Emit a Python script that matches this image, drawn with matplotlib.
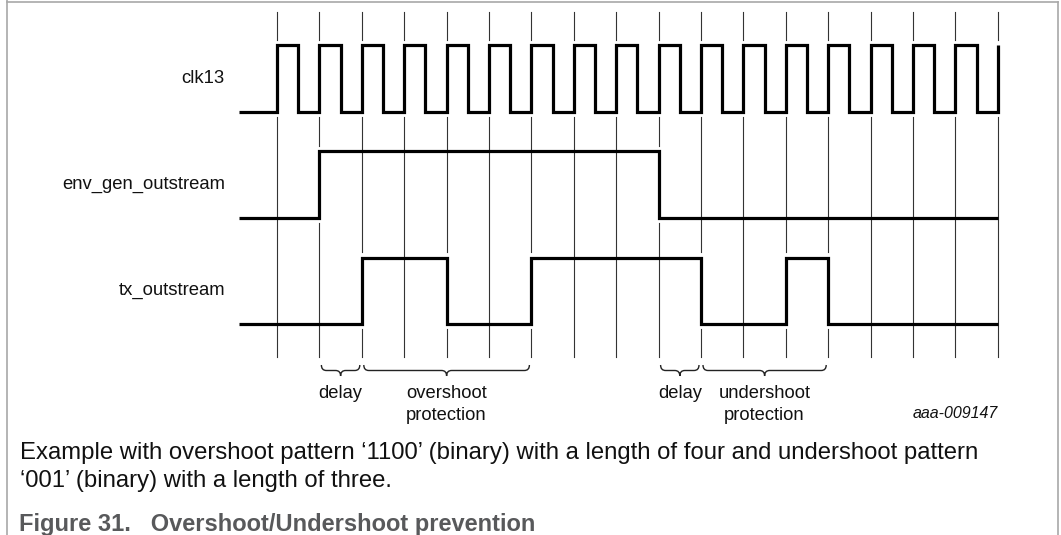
import matplotlib
matplotlib.use('Agg')
import matplotlib.pyplot as plt
from matplotlib.path import Path
from matplotlib.patches import PathPatch
from matplotlib.lines import Line2D

# ---------------- data ----------------
signal_names = ['clk13', 'env_gen_outstream', 'tx_outstream']
n_cycles = 17                      # clock periods drawn (edges 0..17)
# level before edge 0, then level in each clock period 0..16
env_levels = [0, 0, 1, 1, 1, 1, 1, 1, 1, 1, 0, 0, 0, 0, 0, 0, 0, 0]
tx_levels  = [0, 0, 0, 1, 1, 0, 0, 1, 1, 1, 1, 0, 0, 1, 0, 0, 0, 0]
brace_spans = [(1, 2), (2, 6), (9, 10), (10, 13)]
brace_labels = [['delay'], ['overshoot', 'protection'],
                ['delay'], ['undershoot', 'protection']]
figure_id = 'aaa-009147'
caption_lines = ['Example with overshoot pattern \u20181100\u2019 (binary) with a length of four and undershoot pattern',
                 '\u2018001\u2019 (binary) with a length of three.']
figure_title = 'Figure 31.   Overshoot/Undershoot prevention'

# ---------------- layout ----------------
W, H = 1061, 535
X0, PER = 277.0, 42.4              # pixel of edge 0, pixels per clock period
START = -0.9                       # waveform start (cycles)
rows = [(45.0, 111.5), (151.0, 217.5), (257.5, 323.5)]   # (high y, low y) px
GRID_TOP, GRID_BOT, GAP = 12.0, 357.0, 5.5
FONT = 'Liberation Sans'

fig = plt.figure(figsize=(W / 100, H / 100), dpi=100)
ax = fig.add_axes([0, 0, 1, 1])
ax.set_xlim(-X0 / PER, (W - X0) / PER)
ax.set_ylim(H, 0)
ax.axis('off')

def lvl(row, v):
    hi, lo = rows[row]
    return hi if v else lo

wave_kw = dict(color='black', lw=2.3, drawstyle='steps-post',
               solid_joinstyle='miter', solid_capstyle='butt', zorder=3)

# clock
clk_x = [START]
clk_v = [0]
for k in range(n_cycles):
    clk_x += [k, k + 0.5]
    clk_v += [1, 0]
clk_x.append(n_cycles)
clk_v.append(1)
ax.plot(clk_x, [lvl(0, v) for v in clk_v], **wave_kw)

# env / tx
def sig_xy(levels, row):
    xs = [START] + list(range(n_cycles)) + [n_cycles]
    vs = levels + [levels[-1]]
    return xs, [lvl(row, v) for v in vs]

for row, levels in ((1, env_levels), (2, tx_levels)):
    xs, ys = sig_xy(levels, row)
    ax.plot(xs, ys, **wave_kw)

# grid lines at clock edges, interrupted around transitions
for k in range(n_cycles + 1):
    gaps = [(rows[0][0] - GAP, rows[0][1] + GAP)]
    for row, levels in ((1, env_levels), (2, tx_levels)):
        if k < n_cycles and levels[k] != levels[k + 1]:
            gaps.append((rows[row][0] - GAP, rows[row][1] + GAP))
    y = GRID_TOP
    for g0, g1 in gaps:
        ax.plot([k, k], [y, g0], color='#333333', lw=0.8, zorder=2)
        y = g1
    ax.plot([k, k], [y, GRID_BOT], color='#333333', lw=0.8, zorder=2)

# braces
def brace(x1, x2, ytop=365.0, ymid=370.5, ytip=376.0):
    inset = 2.0 / PER
    r = 5.0 / PER
    a, b = x1 + inset, x2 - inset
    m = (a + b) / 2
    verts = [(a, ytop), (a, ymid), (a + r, ymid), (m - r, ymid), (m, ymid), (m, ytip),
             (m, ytip), (m, ymid), (m + r, ymid), (b - r, ymid), (b, ymid), (b, ytop)]
    codes = [Path.MOVETO, Path.CURVE3, Path.CURVE3, Path.LINETO, Path.CURVE3, Path.CURVE3,
             Path.MOVETO, Path.CURVE3, Path.CURVE3, Path.LINETO, Path.CURVE3, Path.CURVE3]
    ax.add_patch(PathPatch(Path(verts, codes), fill=False, lw=1.0, ec='#222222', zorder=3))

for (s, e), lab in zip(brace_spans, brace_labels):
    brace(s, e)
    cx = (s + e) / 2
    for i, t in enumerate(lab):
        ax.text(cx, 397.5 + 22 * i, t, ha='center', va='baseline',
                fontsize=13.2, family=FONT, color='#111111')

# signal names
for row, name in enumerate(signal_names):
    hi, lo = rows[row]
    ax.text((225 - X0) / PER, (hi + lo) / 2, name, ha='right', va='center',
            fontsize=13.3, family=FONT, color='#111111')

ax.text(n_cycles, 418.5, figure_id, ha='right', va='baseline', fontsize=11.5,
        family=FONT, style='italic', color='#111111')

# caption
ax.text((19.5 - X0) / PER, 458.5, caption_lines[0], ha='left', va='baseline',
        fontsize=17.2, family=FONT, color='#111111')
ax.text((19.5 - X0) / PER, 487.5, caption_lines[1], ha='left', va='baseline',
        fontsize=17.2, family=FONT, color='#111111')
ax.text((19 - X0) / PER, 530.5, figure_title, ha='left', va='baseline',
        fontsize=17.0, family=FONT, weight='bold', color='#58595b')

# frame
for xs, ys in (([7, 7], [0, H]), ([7, 1057.5], [1.5, 1.5]), ([1057.5, 1057.5], [1.5, H])):
    fig.add_artist(Line2D([x / W for x in xs], [1 - y / H for y in ys],
                          color='#a8a8a8', lw=1.2))

fig.savefig('out.png', dpi=100)
